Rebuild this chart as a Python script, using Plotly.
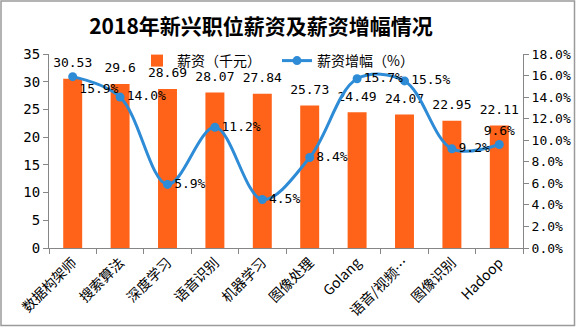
import plotly.graph_objects as go

categories = ["数据构架师", "搜索算法", "深度学习", "语音识别", "机器学习", "图像处理",
              "Golang", "语音/视频…", "图像识别", "Hadoop"]
salary = [30.53, 29.6, 28.69, 28.07, 27.84, 25.73, 24.49, 24.07, 22.95, 22.11]
growth = [15.9, 14.0, 5.9, 11.2, 4.5, 8.4, 15.7, 15.5, 9.2, 9.6]
salary_labels = ["30.53", "29.6", "28.69", "28.07", "27.84", "25.73", "24.49", "24.07", "22.95", "22.11"]
growth_labels = [f"{v:.1f}%" for v in growth]
growth_pos = ["bottom right", "middle right", "middle right", "middle right", "middle right",
              "middle right", "middle right", "middle right", "middle right", "top center"]

W, H = 576, 327
L, R, T, B = 49, 53, 54, 79
pw, ph = W - L - R, H - T - B

mono = "DejaVu Sans Mono, Liberation Mono, monospace"
cjk = "Noto Sans CJK SC"
axis_col = "#868686"

fig = go.Figure()
fig.add_trace(go.Bar(
    x=categories, y=salary, name="薪资（千元）",
    marker=dict(color="#FF6319", line=dict(width=0)),
    width=0.4,
))
# bar value labels, lifted above the bars
fig.add_trace(go.Scatter(
    x=categories, y=salary, mode="markers+text", showlegend=False, hoverinfo="skip",
    marker=dict(size=12, opacity=0),
    text=salary_labels, textposition="top center",
    textfont=dict(family=mono, size=13, color="#000"),
    cliponaxis=False,
))
fig.add_trace(go.Scatter(
    x=categories, y=growth, name="薪资增幅（%）", yaxis="y2",
    mode="lines+markers+text",
    line=dict(color="#2E8BD6", width=3, shape="spline", smoothing=1.0),
    marker=dict(color="#2E8BD6", size=9),
    text=growth_labels, textposition=growth_pos,
    textfont=dict(family=mono, size=13, color="#000"),
    cliponaxis=False,
))

fig.update_layout(
    width=W, height=H,
    margin=dict(l=L, r=R, t=T, b=B, autoexpand=False),
    paper_bgcolor="white", plot_bgcolor="white",
    title=dict(text="<b>2018年新兴职位薪资及薪资增幅情况</b>", x=261 / W, xanchor="center",
               xref="container",
               y=1 - 27 / H, yanchor="middle",
               font=dict(family=cjk, size=21, color="#000")),
    showlegend=True,
    legend=dict(orientation="h", x=(137 - L) / pw, xanchor="left", y=1 - 7 / ph, yanchor="middle",
                bgcolor="rgba(0,0,0,0)", font=dict(family=cjk, size=14, color="#000"),
                itemwidth=30, tracegroupgap=0, entrywidth=95, entrywidthmode="pixels"),
    xaxis=dict(showgrid=False, showline=True, linecolor=axis_col, linewidth=1, automargin=False,
               ticks="outside", tickcolor=axis_col, ticklen=5, tickson="boundaries",
               tickangle=-45, tickfont=dict(family=cjk, size=14, color="#000"),
               range=[-0.5, 9.5]),
    yaxis=dict(range=[0, 35], dtick=5, showgrid=False, showline=True, linecolor=axis_col,
               ticks="outside", tickcolor=axis_col, ticklen=5, zeroline=False, automargin=False,
               tickfont=dict(family=mono, size=14, color="#000")),
    yaxis2=dict(range=[0, 18], dtick=2, overlaying="y", side="right", showgrid=False,
                showline=True, linecolor=axis_col, ticks="outside", tickcolor=axis_col,
                ticklen=5, zeroline=False, ticksuffix="%", tickformat=".1f", automargin=False,
                tickfont=dict(family=mono, size=13, color="#000")),
    shapes=[dict(type="rect", xref="paper", yref="paper",
                 x0=-(L - 1) / pw, x1=1 + (R - 1.5) / pw,
                 y0=-(B - 1.5) / ph, y1=1 + (T - 1) / ph,
                 line=dict(color="#9a9a9a", width=1.5), fillcolor="rgba(0,0,0,0)")],
)

fig.write_html("out.html")
